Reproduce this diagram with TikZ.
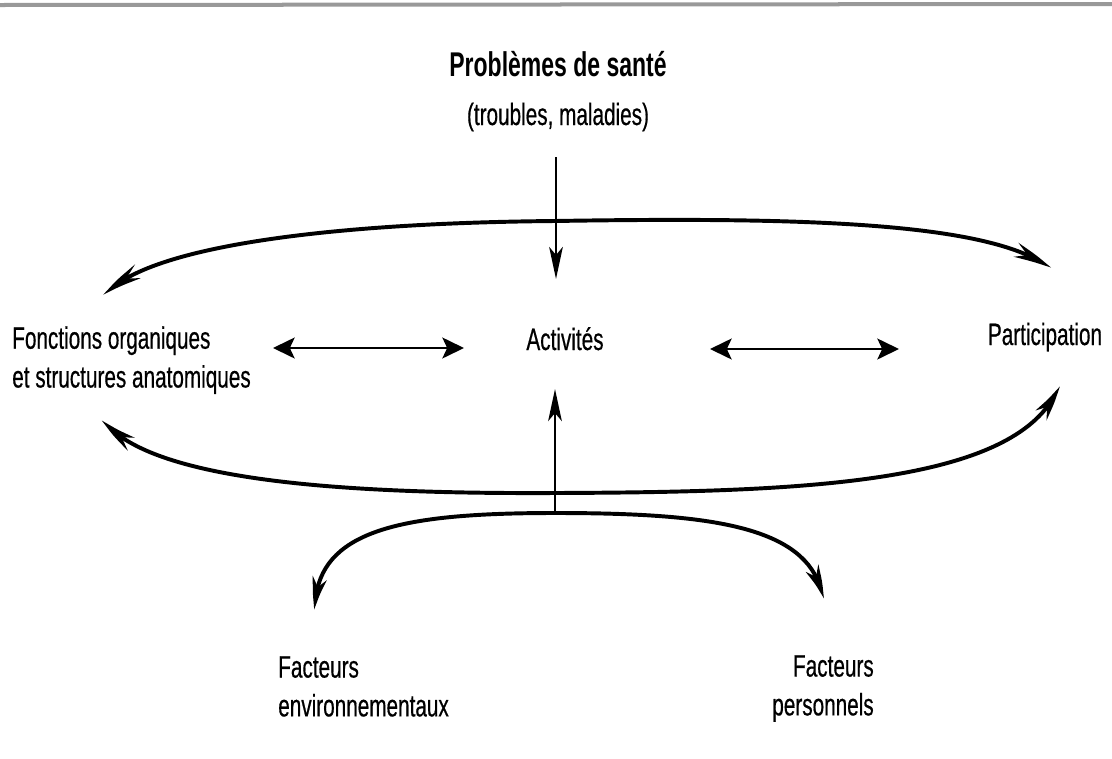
\documentclass[tikz,border=0pt]{standalone}
\usepackage{fontspec}
\setmainfont{Liberation Sans}[FakeStretch=0.67, UprightFeatures={FakeBold=0.5}]
\usetikzlibrary{arrows.meta,bending}
\tikzset{
	texte/.style={font=\fontsize{22}{27.6}\selectfont, inner sep=0pt},
	titre/.style={font=\fontsize{24.4}{28}\selectfont\bfseries, inner sep=0pt},
	pointe/.tip={Stealth[length=8.5mm, width=3.6mm, inset=2.5mm, bend]},
	pointeh/.tip={Stealth[length=5.4mm, width=5.2mm, inset=1.2mm]},
	pointev/.tip={Stealth[length=8mm, width=3.4mm, inset=2mm]},
	courbe/.style={line width=2.8pt, pointe-pointe},
	fleche/.style={line width=2pt, -pointev},
	double/.style={line width=2pt, pointeh-pointeh}
}

\begin{document}
\begin{tikzpicture}[x=0.025cm, y=-0.025cm]
			%%%%% START %%%%%
			\useasboundingbox (0, 0) rectangle (1112, 758);
			
			\draw[line width=1mm, color=black!40] (0, 5) -- (1112, 4);
			
			\node[titre, anchor=base] (probleme) at (558, 76) {Problèmes de santé};
			\node[texte, anchor=base] (troubles) at (558, 125) {(troubles, maladies)};
			\node[texte, anchor=base] (activites) at (565, 350) {Activités};
			\node[texte, anchor=base] (participation) at (1045, 345) {Participation};
			\node[texte, anchor=north west, align=left] (fonctions) at (12, 326) {Fonctions organiques\\et structures anatomiques};
			\node[texte, anchor=north west, align=left] (environnement) at (278, 656) {Facteurs\\environnementaux};
			\node[texte, anchor=north east, align=right] (personnels) at (874, 655) {Facteurs\\personnels};
			
			\coordinate (sante-bas) at (556, 157);
			\coordinate (activites-haut) at (556, 279);
			\coordinate (activites-bas) at (555, 389);
			\coordinate (noeud) at (555, 513);
			\coordinate (haut) at (555, 221);
			\coordinate (bas) at (555, 493);
			\coordinate (fonc-haut) at (105, 295);
			\coordinate (fonc-bas) at (103, 420);
			\coordinate (part-haut) at (1050, 268);
			\coordinate (part-bas) at (1059, 386);
			\coordinate (env-haut) at (315, 610);
			\coordinate (pers-haut) at (823, 599);
			\coordinate (fonc-droite) at (273, 348);
			\coordinate (act-gauche) at (464, 348);
			\coordinate (act-droite) at (710, 349);
			\coordinate (part-gauche) at (899, 349);
			
			\draw[fleche] (sante-bas) -- (activites-haut);
			\draw[fleche] (noeud) -- (activites-bas);
			\draw[double] (fonc-droite) -- (act-gauche);
			\draw[double] (act-droite) -- (part-gauche);
			
			\draw[courbe] (fonc-haut) .. controls (145, 248) and (320, 223) .. (haut) .. controls (800, 217) and (990, 222) .. (part-haut);
			\draw[courbe] (fonc-bas) .. controls (150, 482) and (350, 494) .. (bas) .. controls (800, 492) and (1020, 485) .. (part-bas);
			\draw[courbe] (env-haut) .. controls (315, 530) and (400, 513) .. (noeud) .. controls (715, 513) and (812, 527) .. (pers-haut);
			
			%%%%% END %%%%%
		\end{tikzpicture}
\end{document}
